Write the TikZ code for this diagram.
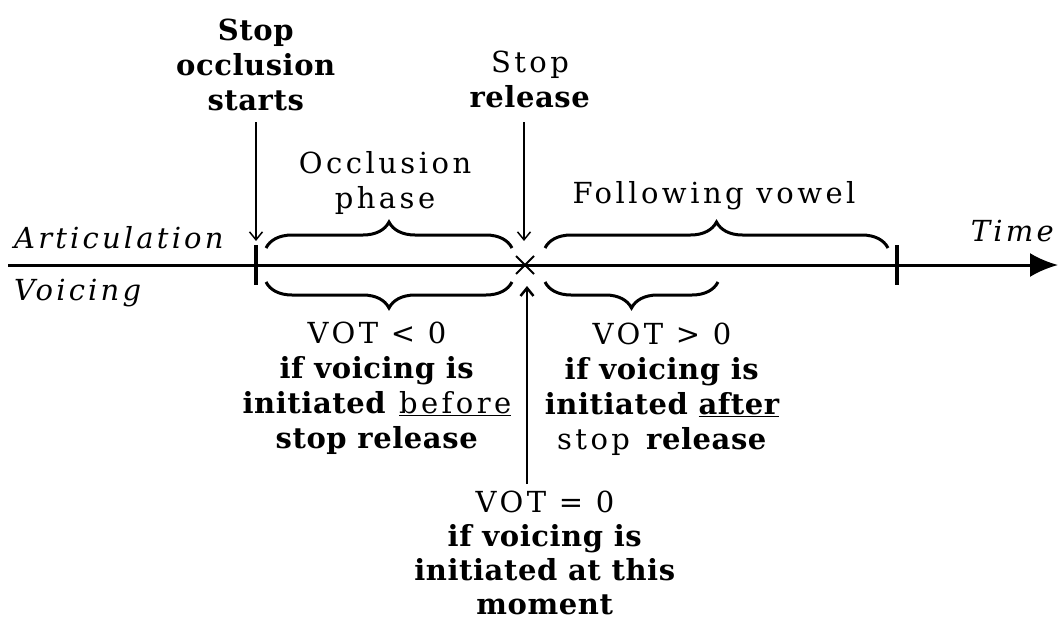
\documentclass[tikz,border=0pt]{standalone}
\usepackage{fontspec}
\setmainfont{DejaVu Serif}[UprightFeatures={LetterSpace=12},ItalicFeatures={LetterSpace=11},BoldFeatures={LetterSpace=2}]
\usetikzlibrary{arrows.meta,decorations.pathreplacing}
\begin{document}
\begin{tikzpicture}[x=1pt,y=-1pt,
  lbl/.style={font=\fontsize{29}{35}\selectfont,align=center,inner sep=0pt},
  ital/.style={font=\fontsize{29}{35}\selectfont\itshape,inner sep=0pt},
  axisline/.style={line width=3pt,-{Latex[length=28pt,width=24pt]}},
  tickline/.style={line width=4pt},
  pointer/.style={line width=1.5pt,-{Straight Barb[length=8pt,width=13pt]}},
  curly/.style={line width=3pt,decorate,decoration={brace,amplitude=26pt}},
]
\useasboundingbox (0,0) rectangle (1059,624);
% labels
\node[lbl] (soStarts) at (256,65) {\textbf{Stop}\\\textbf{occlusion}\\\textbf{starts}};
\node[lbl] (occPhase) at (385,183) {Occlusion\\phase};
\node[lbl] (stopRel) at (530,79) {Stop\\\textbf{release}};
\node[lbl] (follow) at (714,196) {Following vowel};
\node[ital,anchor=west] (artic) at (14,238) {Articulation};
\node[ital,anchor=west] (voicing) at (14,293) {Voicing};
\node[ital,anchor=east] (time) at (1054,231) {Time};
\node[lbl] (vneg) at (377,388) {VOT < 0\\\textbf{if voicing is}\\\textbf{initiated} \underline{before}\\\textbf{stop release}};
\node[lbl] (vpos) at (662,389) {VOT > 0\\\textbf{if voicing is}\\\textbf{initiated \underline{after}}\\stop \textbf{release}};
\node[lbl,font=\fontsize{29}{34}\selectfont] (vzero) at (545,553) {VOT = 0\\\textbf{if voicing is}\\\textbf{initiated at this}\\\textbf{moment}};
% axis
\coordinate (axL) at (8,265);
\coordinate (axR) at (1058,265);
\draw[axisline] (axL) -- (axR);
\coordinate (t1a) at (256,245); \coordinate (t1b) at (256,285);
\coordinate (t2a) at (897,245); \coordinate (t2b) at (897,285);
\draw[tickline] (t1a) -- (t1b);
\draw[tickline] (t2a) -- (t2b);
% release cross
\coordinate (rel) at (525,265);
\draw[line width=2pt] ([shift={(-9,-9)}]rel) -- ([shift={(9,9)}]rel);
\draw[line width=2pt] ([shift={(-9,9)}]rel) -- ([shift={(9,-9)}]rel);
% pointers
\coordinate (p1s) at (256,122); \coordinate (p1e) at (256,241);
\draw[pointer] (p1s) -- (p1e);
\coordinate (p2s) at (524,122); \coordinate (p2e) at (524,241);
\draw[pointer] (p2s) -- (p2e);
\coordinate (p3s) at (527,484); \coordinate (p3e) at (527,286);
\draw[pointer,line width=2.5pt] (p3s) -- (p3e);
% braces
\coordinate (b1a) at (266,248); \coordinate (b1b) at (512,248);
\draw[curly] (b1a) -- (b1b);
\coordinate (b2a) at (545,248); \coordinate (b2b) at (888,248);
\draw[curly] (b2a) -- (b2b);
\coordinate (b3a) at (266,282); \coordinate (b3b) at (512,282);
\draw[curly,decoration={mirror}] (b3a) -- (b3b);
\coordinate (b4a) at (545,282); \coordinate (b4b) at (718,282);
\draw[curly,decoration={mirror}] (b4a) -- (b4b);
\end{tikzpicture}
\end{document}
